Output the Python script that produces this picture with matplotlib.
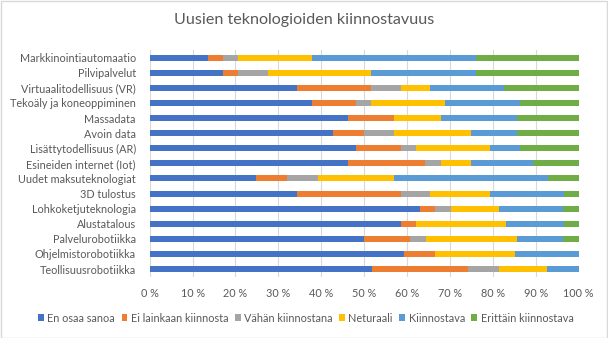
import matplotlib
matplotlib.use("Agg")
import matplotlib.pyplot as plt
from matplotlib.patches import Rectangle
import numpy as np

plt.rcParams['font.family'] = ['Lato', 'DejaVu Sans']

categories = [
    "Markkinointiautomaatio", "Pilvipalvelut", "Virtuaalitodellisuus (VR)",
    "Tekoäly ja koneoppiminen", "Massadata", "Avoin data",
    "Lisättytodellisuus (AR)", "Esineiden internet (Iot)", "Uudet maksuteknologiat",
    "3D tulostus", "Lohkoketjuteknologia", "Alustatalous",
    "Palvelurobotiikka", "Ohjelmistorobotiikka", "Teollisuusrobotiikka",
]

series_names = ["En osaa sanoa", "Ei lainkaan kiinnosta", "Vähän kiinnostana",
                "Neturaali", "Kiinnostava", "Erittäin kiinnostava"]

en_osaa_sanoa = [13.5, 17.0, 34.3, 37.8, 46.3, 42.7, 48.1, 46.3, 24.8, 34.3, 62.9, 58.6, 50.0, 59.3, 51.8]
ei_lainkaan = [3.7, 3.6, 17.3, 10.3, 10.6, 7.3, 10.5, 17.9, 7.3, 24.3, 3.7, 3.5, 10.7, 7.2, 22.3]
vahan = [3.4, 7.0, 6.9, 3.5, 0.0, 6.9, 3.5, 3.7, 7.1, 6.7, 3.6, 0.0, 3.6, 0.0, 7.3]
neutraali = [17.2, 24.0, 6.8, 17.2, 11.0, 18.0, 17.2, 7.0, 17.7, 14.0, 11.2, 20.9, 21.4, 18.7, 11.3]
kiinnostava = [38.2, 24.4, 17.4, 17.5, 17.8, 10.8, 7.0, 14.5, 36.0, 17.3, 15.0, 13.6, 10.7, 14.8, 7.3]
erittain = [24.0, 24.0, 17.3, 13.7, 14.3, 14.3, 13.7, 10.6, 7.1, 3.4, 3.6, 3.4, 3.6, 0.0, 0.0]

colors = ["#4472C4", "#ED7D31", "#A5A5A5", "#FFC000", "#5B9BD5", "#70AD47"]
xticks = [0, 10, 20, 30, 40, 50, 60, 70, 80, 90, 100]

data = np.array([en_osaa_sanoa, ei_lainkaan, vahan, neutraali, kiinnostava, erittain])
data = data / data.sum(axis=0) * 100

W, H = 608, 338
fig = plt.figure(figsize=(W / 100, H / 100), dpi=100)
fig.patches.append(Rectangle((0.5 / W, 0.5 / H), 1 - 1.5 / W, 1 - 1.5 / H,
                             transform=fig.transFigure, fill=False,
                             edgecolor="#d9d9d9", linewidth=1))

ax = fig.add_axes([149.7 / W, 1 - 276.6 / H, 429.0 / W, 226.5 / H])
y = np.arange(len(categories))
left = np.zeros(len(categories))
for name, vals, col in zip(series_names, data, colors):
    ax.barh(y, vals, left=left, height=0.4, color=col, label=name, zorder=3)
    left += vals

ax.set_ylim(len(categories) - 0.5, -0.5)
ax.set_xlim(0, 100)
ax.set_xticks(xticks)
ax.set_xticklabels([f"{t} %" for t in xticks])
ax.set_yticks(y)
ax.set_yticklabels(categories)
ax.tick_params(axis="both", length=0, labelsize=7.8, colors="#595959")
ax.tick_params(axis="x", pad=8)
ax.tick_params(axis="y", pad=10)
ax.grid(axis="x", color="#d9d9d9", linewidth=0.8, zorder=0)
for s in ax.spines.values():
    s.set_visible(False)

fig.text(0.5, 1 - 20 / H, "Uusien teknologioiden kiinnostavuus", ha="center", va="center",
         fontsize=11.6, color="#595959")

fig.legend(loc="center", bbox_to_anchor=(0.503, 1 - 318 / H), ncol=6, frameon=False,
           fontsize=7.8, handlelength=0.55, handleheight=0.55, handletextpad=0.3,
           columnspacing=0.6, labelcolor="#595959")

fig.savefig("out.png", dpi=100)
